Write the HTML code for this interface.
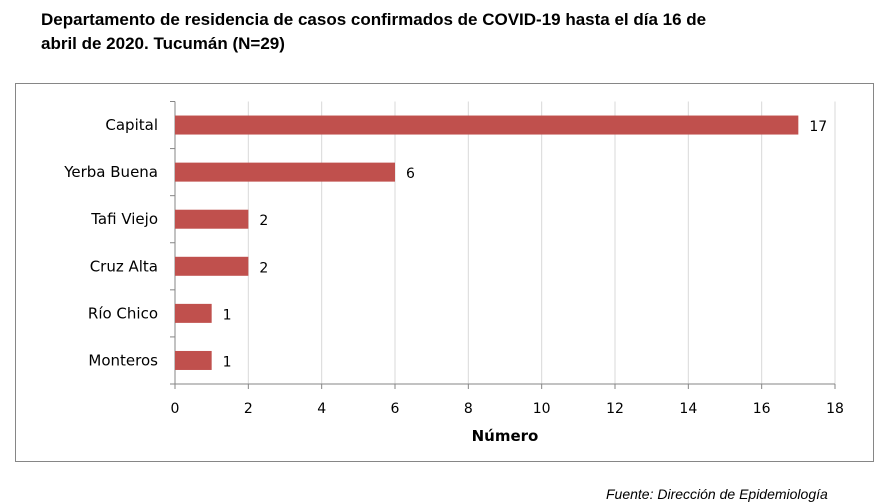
<!DOCTYPE html>
<html><head><meta charset="utf-8"><style>
body{margin:0;background:#fff;width:891px;height:500px;overflow:hidden;position:relative;font-family:"Liberation Sans",sans-serif}
.title{position:absolute;left:41px;top:8px;font-weight:bold;font-size:17px;line-height:24px;color:#000}
.src{position:absolute;left:606px;top:486px;font-style:italic;font-size:14px;color:#000}
</style></head><body>
<div class="title">Departamento de residencia de casos confirmados de COVID-19 hasta el día 16 de<br>abril de 2020. Tucumán (N=29)</div>
<svg id="chart" width="891" height="500" style="position:absolute;left:0;top:0"></svg>
<div class="src">Fuente: Dirección de Epidemiología</div>
<script>
const categories=["Capital","Yerba Buena","Tafi Viejo","Cruz Alta","Río Chico","Monteros"];
const values=[17,6,2,2,1,1];
const ticks=[0,2,4,6,8,10,12,14,16,18];
const axisTitle="Número";
const NS="http://www.w3.org/2000/svg";
const svg=document.getElementById('chart');
const x0=175,x1=835,yTop=101.5,yBot=384;
const xMax=ticks[ticks.length-1];
const sx=v=>x0+(v/xMax)*(x1-x0);
const band=(yBot-yTop)/categories.length;
const sy=i=>yTop+band*i;
function mk(t,a){const e=document.createElementNS(NS,t);for(const k in a)e.setAttribute(k,a[k]);svg.appendChild(e);return e;}
let r=mk('rect',{x:15.5,y:83.5,width:858,height:378,fill:'none',stroke:'#868686'});


ticks.forEach(t=>{
 if(t>0){let g=mk('line',{x1:sx(t),x2:sx(t),y1:yTop,y2:yBot,stroke:'#d9d9d9'});
 
 }
 let tk=mk('line',{x1:sx(t),x2:sx(t),y1:yBot,y2:yBot+5,stroke:'#868686'});
 
 
 let lb=mk('text',{x:sx(t),y:yBot+29,'text-anchor':'middle','font-size':14,fill:'#000','font-family':'DejaVu Sans, sans-serif'});
 lb.textContent=t;
 
 
});
for(let i=0;i<=categories.length;i++){
 let tk=mk('line',{x1:x0-5,x2:x0,y1:sy(i),y2:sy(i),stroke:'#868686'});
 
 
}
let ya=mk('line',{x1:x0,x2:x0,y1:yTop,y2:yBot,stroke:'#868686'});


let xa=mk('line',{x1:x0,x2:x1,y1:yBot,y2:yBot,stroke:'#868686'});


categories.forEach((c,i)=>{
 const cy=sy(i)+band/2;
 let b=mk('rect',{x:x0,y:cy-9.5,width:sx(values[i])-x0,height:19,fill:'#c0504d'});
 
 
 let l=mk('text',{x:158,y:cy+5,'text-anchor':'end','font-size':15,fill:'#000','font-family':'DejaVu Sans, sans-serif'});
 l.textContent=c;
 
 
 let v=mk('text',{x:sx(values[i])+11,y:cy+6,'font-size':14,fill:'#000','font-family':'DejaVu Sans, sans-serif'});
 v.textContent=values[i];
 
 
});
let at=mk('text',{x:(x0+x1)/2,y:441,'text-anchor':'middle','font-size':15,'font-weight':'bold',fill:'#000','font-family':'DejaVu Sans, sans-serif'});
at.textContent=axisTitle;


</script>
</body></html>
